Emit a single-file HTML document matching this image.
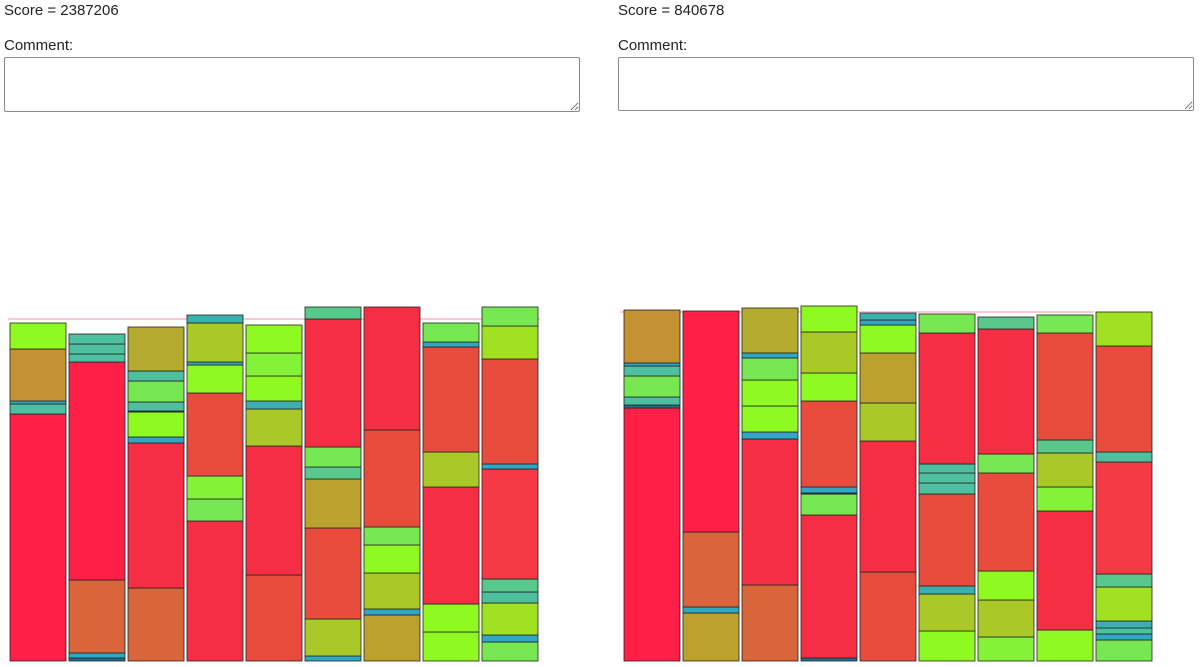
<!DOCTYPE html>
<html><head><meta charset="utf-8"><style>
body{margin:0;width:1200px;height:667px;overflow:hidden;background:#fff;font-family:"Liberation Sans",sans-serif;font-size:15px;color:#222;position:relative}
.t{position:absolute}
textarea{position:absolute;box-sizing:border-box;border:1px solid #8a8a8a;border-radius:2px;resize:both;margin:0}
svg{position:absolute;left:0;top:0}
</style></head><body>
<div class="t" style="left:4px;top:2px">Score = 2387206</div>
<div class="t" style="left:4px;top:37px">Comment:</div>
<textarea style="left:4px;top:57px;width:576px;height:55px"></textarea>
<div class="t" style="left:618px;top:2px">Score = 840678</div>
<div class="t" style="left:618px;top:37px">Comment:</div>
<textarea style="left:618px;top:57px;width:576px;height:54px"></textarea>
<svg id="chart" width="1200" height="667"></svg>
<script>
// segments listed bottom-up: heights and color categories
const leftHeights=[
[247,10,3,52,26],
[3,5,73,218,8,10,10],
[73,145,6,25,1,9,21,10,44],
[140,22,23,83,28,3,39,8],
[86,129,37,8,25,23,28],
[5,37,91,49,12,20,128,12],
[46,6,36,28,18,97,123],
[29,28,117,35,105,5,19],
[19,7,32,11,13,110,5,105,33,19]];
const leftCats=[
["R","T","B","N","L"],
["D","B","O","R","T","T","T"],
["O","r","B","L","D","T","G","T","V"],
["r","G","g","E","L","B","Y","C"],
["E","r","Y","C","L","g","L"],
["B","Y","E","V2","M","G","r","M"],
["V2","B","Y","L","G","E","r"],
["L","L","r","Y","E","B","G"],
["G","B","W","T","M","s","B","E","W","G"]];
const rightHeights=[
[253,3,8,21,10,3,53],
[48,6,75,221],
[76,146,7,26,26,22,5,45],
[3,143,21,1,6,86,28,41,26],
[89,131,38,50,28,5,7],
[30,37,8,92,11,10,9,131,19],
[24,37,29,98,19,125,12],
[31,119,24,34,13,107,18],
[21,6,6,7,34,13,112,10,106,34]];
const rightCats=[
["R","D","T","G","T","B","N"],
["V2","B","O","R"],
["O","r","B","L","L","G","B","V"],
["D","r","G","D","B","E","L","Y","L"],
["E","r","Y","V2","L","B","C"],
["L","Y","C","E","T","T","T","r","G"],
["g","Y","L","E","G","r","M"],
["L","r","g","Y","M","E","G"],
["G","B","T","C","W","M","s","T","E","W"]];
const palette={R:"#ff1f47",r:"#f52e44",s:"#f53a45",E:"#e84c3d",O:"#d9663a",N:"#c49232",V:"#b5ab2e",V2:"#bba22e",Y:"#aac828",W:"#a0e222",L:"#8ff922",g:"#85f23a",G:"#77e852",M:"#58c98a",T:"#4ec0a0",C:"#3ab0b0",B:"#30a8c4",D:"#1f6f90"};
const base=661, colW=56;
const svg=document.getElementById('chart');
const NS="http://www.w3.org/2000/svg";
function yScale(v){return base-v;}
function xScale(panelX,i){return panelX+i*59;}
function drawPanel(heights,cats,panelX,lineY,lineX1,lineX2,prefix){
  const ln=document.createElementNS(NS,'line');
  ln.setAttribute('x1',lineX1);ln.setAttribute('x2',lineX2);ln.setAttribute('y1',lineY);ln.setAttribute('y2',lineY);
  ln.setAttribute('stroke','#ffc8d2');ln.setAttribute('stroke-width','2');
  
  
  svg.appendChild(ln);
  heights.forEach((col,i)=>{
    let acc=0;
    col.forEach((h,j)=>{
      const r=document.createElementNS(NS,'rect');
      r.setAttribute('x',xScale(panelX,i));
      r.setAttribute('y',yScale(acc+h));
      r.setAttribute('width',colW);
      r.setAttribute('height',h);
      r.setAttribute('fill',palette[cats[i][j]]||"#888");
      r.setAttribute('stroke','#222');r.setAttribute('stroke-opacity','0.8');r.setAttribute('stroke-width','1');
      
      
      svg.appendChild(r);
      acc+=h;
    });
  });
}
drawPanel(leftHeights,leftCats,10,319,8,540,'left');
drawPanel(rightHeights,rightCats,624,312,620,1094,'right');
</script>
</body></html>
